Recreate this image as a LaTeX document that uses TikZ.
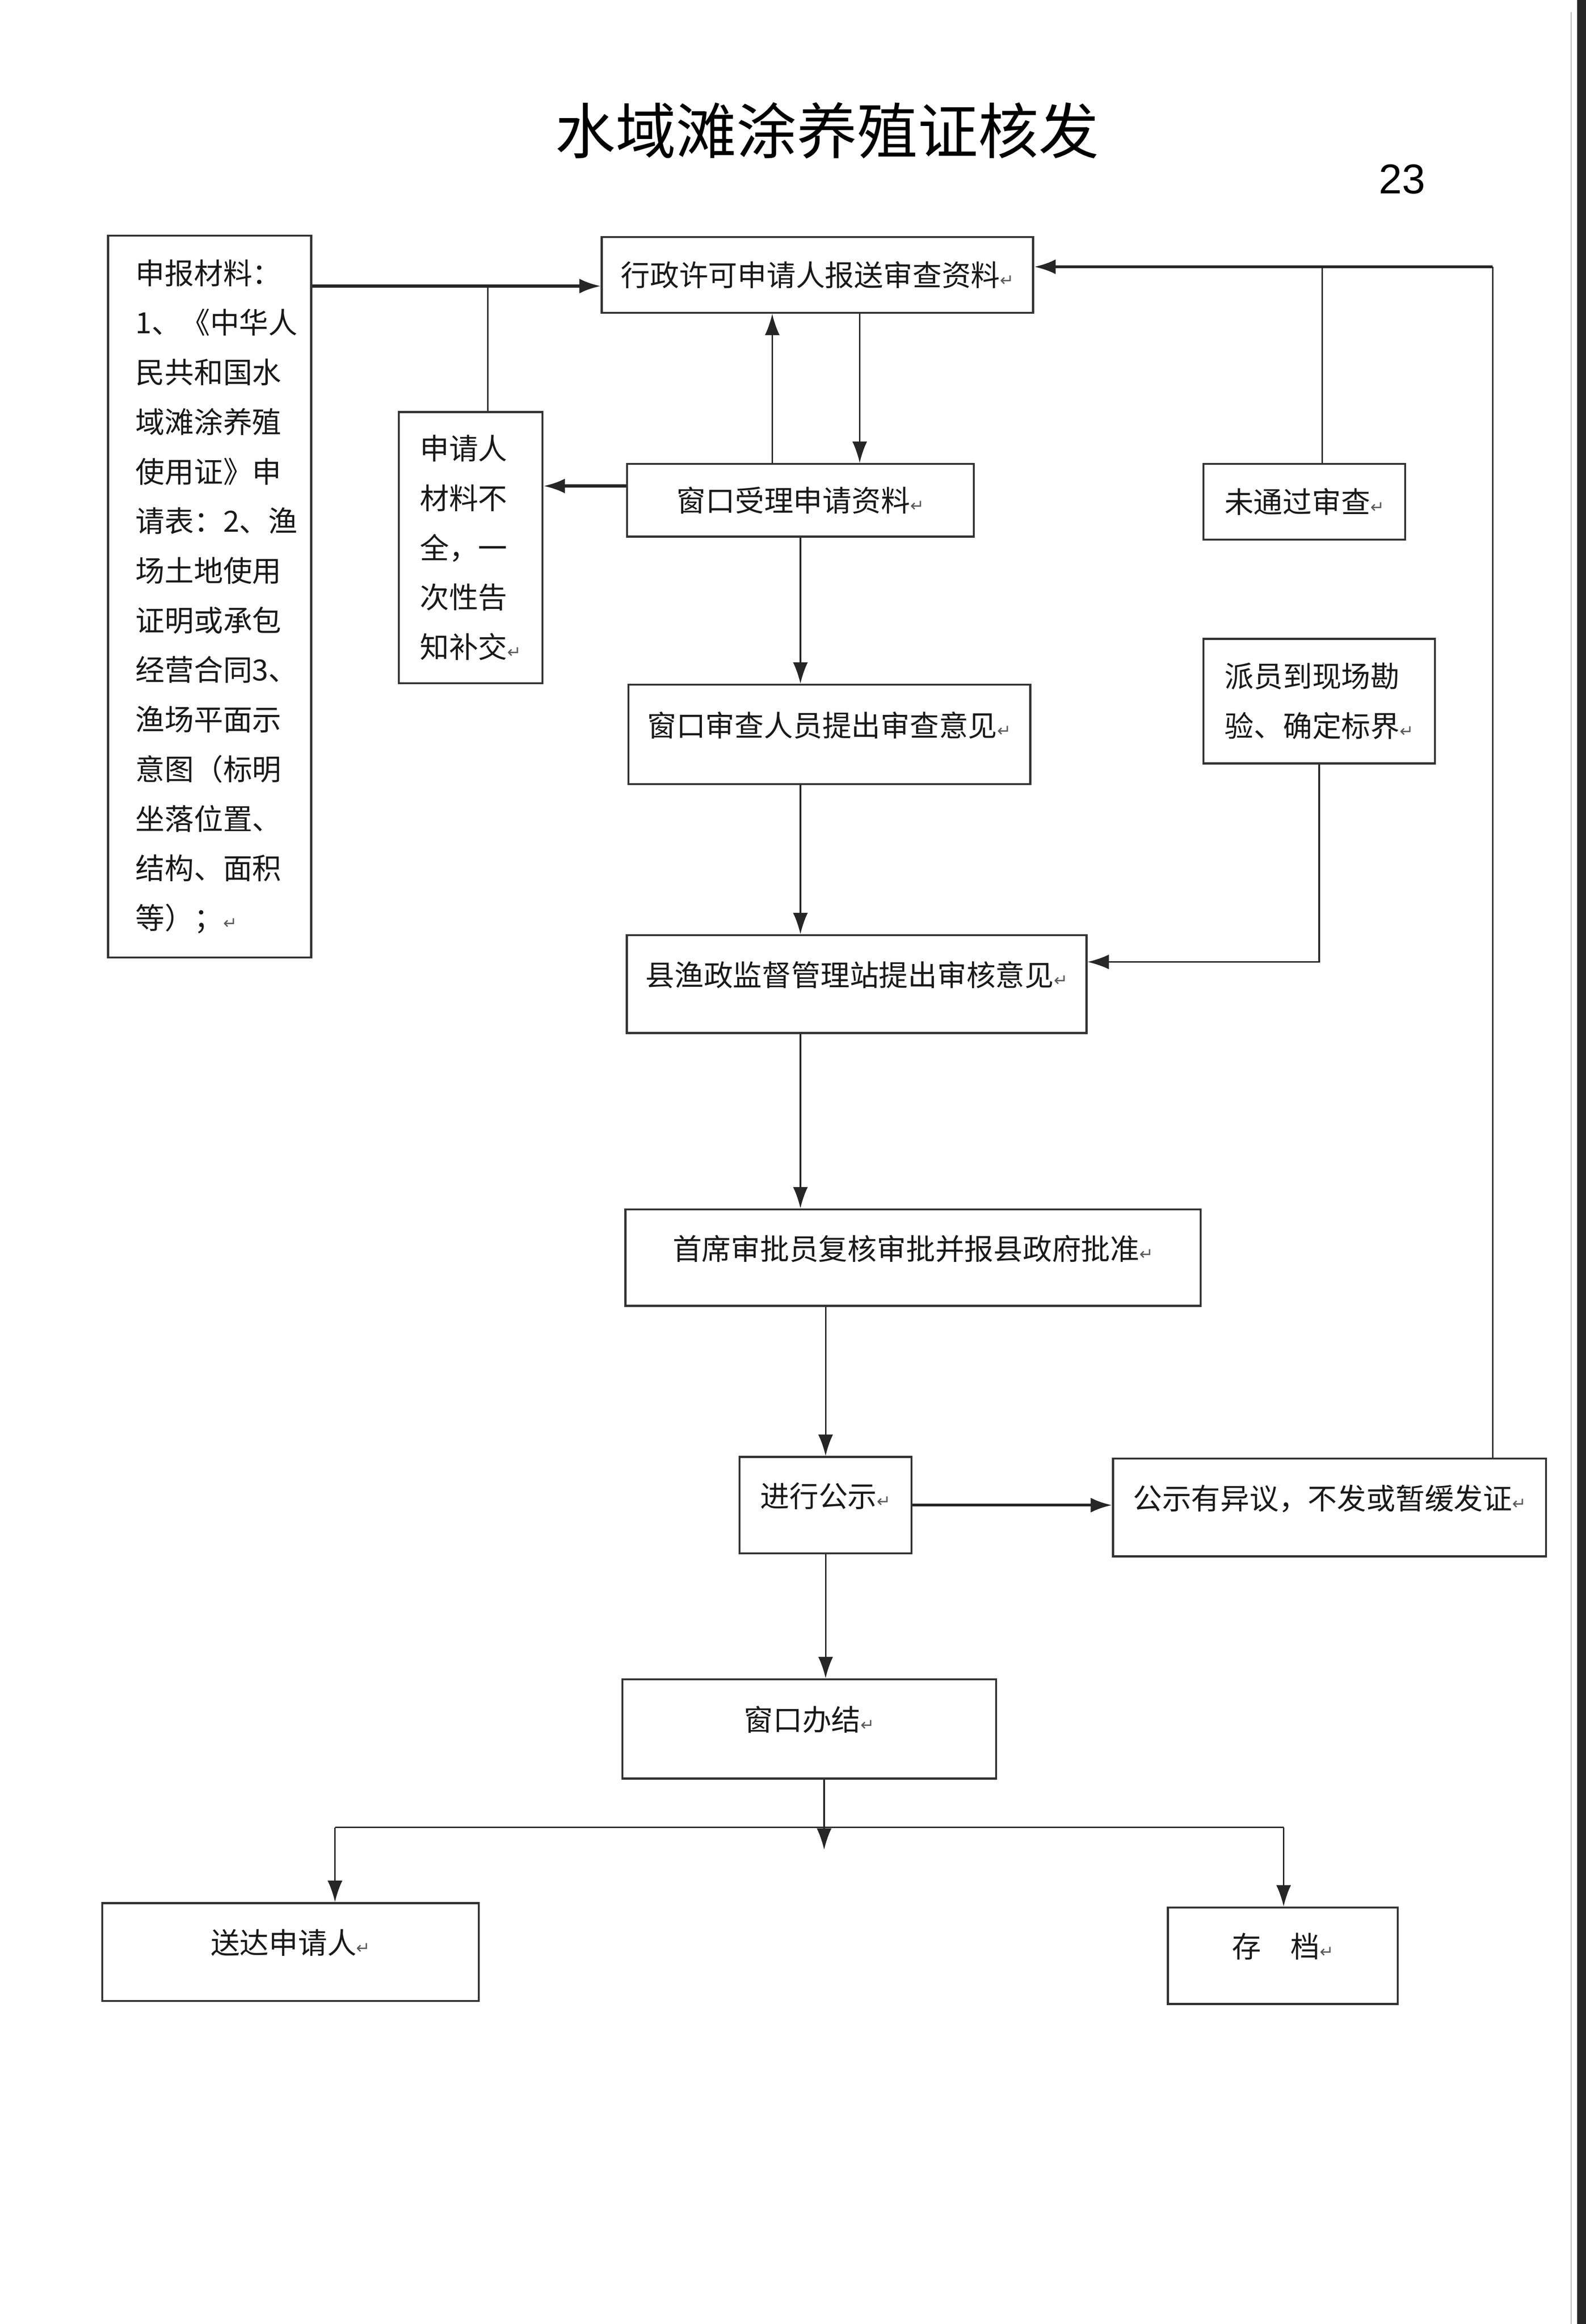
\documentclass[tikz,border=0pt]{standalone}
\usepackage{fontspec}
\setmainfont{Liberation Sans}
\newfontfamily\cjk{Noto Sans CJK SC}
\newfontfamily\symb{DejaVu Sans}
\usetikzlibrary{arrows.meta}

\newcommand{\retmark}{{\symb\fontsize{8}{8}\selectfont\color{black!65}↵}}

\begin{document}
\begin{tikzpicture}[
    x=0.025cm,
    y=-0.025cm,
    cell/.style={
      rectangle,
      draw=black!80,
      line width=1pt,
      text=black!90,
      inner sep=0pt,
      text centered,
      font=\cjk\fontsize{14}{17}\selectfont
    },
    card/.style={
      cell,
      text depth=0.35cm
    },
    tallcell/.style={
      cell,
      align=left,
      font=\cjk\fontsize{14}{23.8}\selectfont
    },
    wire/.style={
      draw=black!85,
      line width=0.7pt
    },
    link/.style={
      wire,
      -{Latex[length=0.36cm,width=0.25cm]}
    },
    thicklink/.style={
      link,
      line width=1.4pt
    }
  ]

    \useasboundingbox (0,0) rectangle (1070,1568);

    % Page edge
    \fill[black!85] (1064,0) rectangle (1070,1568);
    \draw[black!30, line width=0.5pt] (1060,8) -- (1060,1568);

    % Title
    \node[font=\cjk\fontsize{29}{29}\selectfont] (title) at (558,88) {水域滩涂养殖证核发};
    \node[font=\fontsize{20}{20}\selectfont] (pagenum) at (946,121) {23};

    % Row 1: application
    \node[tallcell, text width=2.5cm, minimum width=3.425cm, minimum height=12.175cm] (mat) at (141.5,402.5) {申报材料：\\1、《中华人\\民共和国水\\域滩涂养殖\\使用证》申\\请表：2、渔\\场土地使用\\证明或承包\\经营合同3、\\渔场平面示\\意图（标明\\坐落位置、\\结构、面积\\等）；\retmark};
    \node[cell, minimum width=7.275cm, minimum height=1.275cm] (submit) at (551.5,185.5) {行政许可申请人报送审查资料\retmark};

    % Row 2: window acceptance
    \node[tallcell, minimum width=2.425cm, minimum height=4.575cm] (notify) at (317.5,369.5) {申请人\\材料不\\全，一\\次性告\\知补交\retmark};
    \node[cell, minimum width=5.85cm, minimum height=1.225cm] (accept) at (540,337.5) {窗口受理申请资料\retmark};
    \node[cell, minimum width=3.4cm, minimum height=1.275cm] (fail) at (880,338.5) {未通过审查\retmark};

    % Row 3: review and survey
    \node[card, minimum width=6.775cm, minimum height=1.675cm] (review) at (559.5,495.5) {窗口审查人员提出审查意见\retmark};
    \node[tallcell, minimum width=3.9cm, minimum height=2.1cm] (survey) at (890,473) {派员到现场勘\\验、确定标界\retmark};

    % Row 4: station
    \node[card, minimum width=7.75cm, minimum height=1.65cm] (station) at (578,664) {县渔政监督管理站提出审核意见\retmark};

    % Row 5: approval
    \node[card, minimum width=9.7cm, minimum height=1.625cm] (chief) at (616,848.5) {首席审批员复核审批并报县政府批准\retmark};

    % Row 6: publicity
    \node[card, minimum width=2.9cm, minimum height=1.625cm] (publicize) at (557,1015.5) {进行公示\retmark};
    \node[card, minimum width=7.3cm, minimum height=1.65cm] (objection) at (897,1017) {公示有异议，不发或暂缓发证\retmark};

    % Row 7: finish
    \node[card, minimum width=6.3cm, minimum height=1.675cm] (finish) at (546,1166.5) {窗口办结\retmark};

    % Row 8: outputs
    \node[card, minimum width=6.35cm, minimum height=1.65cm] (deliver) at (196,1317) {送达申请人\retmark};
    \node[card, minimum width=3.875cm, minimum height=1.625cm] (archive) at (865.5,1319.5) {存　档\retmark};

    % Join points
    \coordinate (matjoin) at (329,193);
    \coordinate (downx) at (580,260);
    \coordinate (upx) at (521,260);
    \coordinate (failjoin) at (892,180);
    \coordinate (rtop) at (1007,180);
    \coordinate (backl) at ([yshift=0.24cm]accept.west);
    \coordinate (svjoin) at ([yshift=0.375cm]station.east);
    \coordinate (tip) at (556,1248);
    \coordinate (barl) at (226,1233);
    \coordinate (barr) at (866,1233);

    % Connectors
    \draw[thicklink] (mat.east |- matjoin) -- (submit.west |- matjoin);
    \draw[wire] (notify.north -| matjoin) -- (matjoin);
    \draw[link] (submit.south -| downx) -- (accept.north -| downx);
    \draw[link] (accept.north -| upx) -- (submit.south -| upx);
    \draw[thicklink] (backl) -- (backl -| notify.east);
    \draw[wire] (fail.north -| failjoin) -- (failjoin);
    \draw[wire] (objection.north -| rtop) -- (rtop);
    \draw[thicklink] (rtop) -- (submit.east |- rtop);
    \draw[link] (accept.south) -- (accept.south |- review.north);
    \draw[link] (review.south -| accept.south) -- (station.north -| accept.south);
    \draw[link] (survey.south) |- (svjoin);
    \draw[link] (station.south -| accept.south) -- (chief.north -| accept.south);
    \draw[link] (chief.south -| publicize.north) -- (publicize.north);
    \draw[thicklink] (publicize.east) -- (publicize.east -| objection.west);
    \draw[link] (publicize.south) -- (publicize.south |- finish.north);
    \draw[link] (finish.south -| tip) -- (tip);
    \draw[wire] (barl) -- (barr);
    \draw[link] (barl) -- (barl |- deliver.north);
    \draw[link] (barr) -- (barr |- archive.north);

  \end{tikzpicture}
\end{document}
